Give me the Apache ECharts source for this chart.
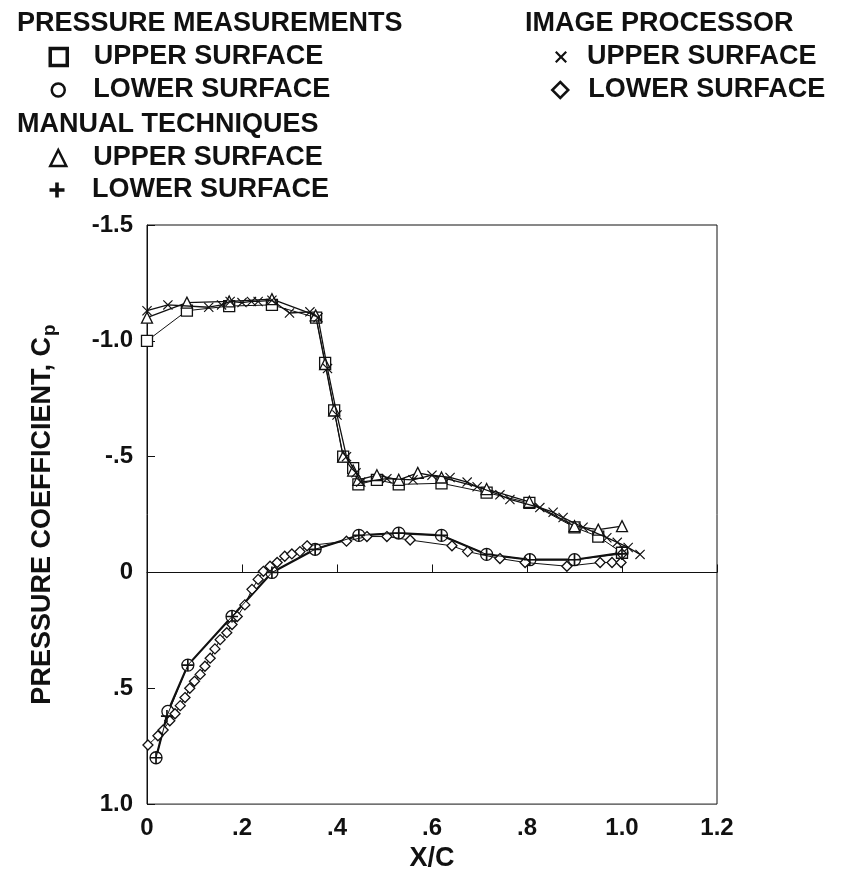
<!DOCTYPE html>
<html>
<head>
<meta charset="utf-8">
<script src="https://cdn.jsdelivr.net/npm/echarts@6/dist/echarts.min.js"></script>
<style>
  html, body { margin: 0; padding: 0; background: #fff; }
  #chart { width: 856px; height: 877px; }
</style>
</head>
<body>
<div id="chart"></div>
<script>
// tick labels
const xTicks = [0, 0.2, 0.4, 0.6, 0.8, 1.0, 1.2]
const xTickLabels = ['0', '.2', '.4', '.6', '.8', '1.0', '1.2']
const yTicks = [-1.5, -1.0, -0.5, 0, 0.5, 1.0]
const yTickLabels = ['-1.5', '-1.0', '-.5', '0', '.5', '1.0']

// pressure measurements [x/c, Cp]
const pressureUpper = [
  [0, -1.0], [0.084, -1.13], [0.173, -1.15], [0.263, -1.155], [0.356, -1.10],
  [0.375, -0.905], [0.394, -0.70], [0.413, -0.50], [0.434, -0.45], [0.445, -0.38],
  [0.484, -0.40], [0.53, -0.38], [0.62, -0.385], [0.715, -0.345], [0.805, -0.30],
  [0.90, -0.195], [0.95, -0.155], [1.0, -0.085]
]
const pressureLower = [
  [0.019, 0.80], [0.044, 0.60], [0.086, 0.40], [0.179, 0.19], [0.263, 0.0],
  [0.354, -0.10], [0.446, -0.16], [0.53, -0.17], [0.62, -0.16], [0.715, -0.078],
  [0.806, -0.055], [0.90, -0.055], [1.0, -0.085]
]

// manual techniques
const manualUpper = [
  [0, -1.10], [0.084, -1.165], [0.173, -1.17], [0.263, -1.18], [0.355, -1.11],
  [0.375, -0.90], [0.394, -0.70], [0.413, -0.50], [0.434, -0.44], [0.445, -0.40],
  [0.484, -0.42], [0.53, -0.40], [0.57, -0.43], [0.62, -0.41], [0.715, -0.36],
  [0.805, -0.305], [0.90, -0.20], [0.95, -0.185], [1.0, -0.20]
]
const manualLower = [
  [0.019, 0.80], [0.042, 0.62], [0.086, 0.40], [0.179, 0.19], [0.263, 0.0],
  [0.354, -0.10], [0.446, -0.16], [0.53, -0.17], [0.62, -0.16], [0.715, -0.078],
  [0.806, -0.055], [0.90, -0.055], [1.0, -0.08]
]

// image processor
const imageUpper = [
  [0, -1.13], [0.044, -1.155], [0.13, -1.145], [0.157, -1.155], [0.175, -1.17],
  [0.20, -1.165], [0.22, -1.17], [0.234, -1.17], [0.263, -1.175], [0.30, -1.12],
  [0.343, -1.125], [0.36, -1.10], [0.38, -0.88], [0.40, -0.68], [0.42, -0.50],
  [0.44, -0.43], [0.45, -0.39], [0.505, -0.405], [0.56, -0.40], [0.60, -0.42],
  [0.638, -0.41], [0.674, -0.39], [0.695, -0.37], [0.743, -0.335], [0.764, -0.315],
  [0.827, -0.28], [0.855, -0.26], [0.876, -0.237], [0.918, -0.195], [0.968, -0.15],
  [0.99, -0.13], [1.013, -0.108], [1.038, -0.078]
]
const imageLower = [
  [0.002, 0.745], [0.023, 0.705], [0.034, 0.68], [0.048, 0.64], [0.059, 0.61],
  [0.07, 0.575], [0.08, 0.54], [0.09, 0.50], [0.10, 0.47], [0.112, 0.44],
  [0.122, 0.405], [0.133, 0.37], [0.143, 0.33], [0.154, 0.29], [0.168, 0.26],
  [0.179, 0.225], [0.19, 0.19], [0.206, 0.14], [0.221, 0.073], [0.234, 0.03],
  [0.245, -0.005], [0.259, -0.027], [0.274, -0.043], [0.29, -0.07], [0.305, -0.08],
  [0.322, -0.09], [0.337, -0.115], [0.42, -0.135], [0.463, -0.155], [0.505, -0.155],
  [0.554, -0.14], [0.642, -0.115], [0.675, -0.09], [0.743, -0.06], [0.796, -0.043],
  [0.884, -0.027], [0.954, -0.043], [0.979, -0.043], [0.998, -0.043], [1.0, -0.08]
]

const FONT = '"Liberation Sans", Arial, sans-serif'
const INK = '#111'
const PLUS = 'path://M4.3,0H5.7V4.3H10V5.7H5.7V10H4.3V5.7H0V4.3H4.3Z'
const PLUS_BOLD = 'path://M3.8,0H6.2V3.8H10V6.2H6.2V10H3.8V6.2H0V3.8H3.8Z'
const CROSS = 'path://M0.8,0L5,4.2L9.2,0L10,0.8L5.8,5L10,9.2L9.2,10L5,5.8L0.8,10L0,9.2L4.2,5L0,0.8Z'
const CROSS_BOLD = 'path://M1.3,0L5,3.7L8.7,0L10,1.3L6.3,5L10,8.7L8.7,10L5,6.3L1.3,10L0,8.7L3.7,5L0,1.3Z'

const labels = {
  pu: 'UPPER SURFACE', pl: 'LOWER SURFACE',
  mu: 'UPPER SURFACE', ml: 'LOWER SURFACE',
  iu: 'UPPER SURFACE', il: 'LOWER SURFACE'
}

const chart = echarts.init(document.getElementById('chart'))

const hollow = { color: '#fff', borderColor: INK, borderWidth: 1.3 }

// one legend per row so rows sit where the reference has them
function legendRow (name, icon, size, cx, cy, textX, style) {
  return {
    data: [{ name: name, icon: icon, itemStyle: style }],
    formatter: n => labels[n],
    left: cx - size / 2,
    top: cy - 14,
    padding: 0,
    itemWidth: size,
    itemHeight: size,
    selectedMode: false,
    textStyle: {
      fontFamily: FONT, fontWeight: 'bold', fontSize: 27, color: INK,
      lineHeight: 28, padding: [0, 0, 0, textX - (cx + size / 2) - 5]
    }
  }
}

const headerStyle = { fontFamily: FONT, fontWeight: 'bold', fontSize: 27, color: INK, lineHeight: 28 }

const option = {
  animation: false,
  backgroundColor: '#fff',
  title: [
    { text: 'PRESSURE MEASUREMENTS', left: 17, top: 10, padding: 0, textStyle: headerStyle },
    { text: 'MANUAL TECHNIQUES', left: 17, top: 111, padding: 0, textStyle: headerStyle },
    { text: 'IMAGE PROCESSOR', left: 525, top: 10, padding: 0, textStyle: headerStyle }
  ],
  legend: [
    legendRow('pu', 'rect', 17, 57, 57, 92, { color: '#fff', borderColor: INK, borderWidth: 3.5 }),
    legendRow('pl', 'circle', 13, 57, 90, 92, { color: '#fff', borderColor: INK, borderWidth: 2.5 }),
    legendRow('mu', 'triangle', 16, 57, 158, 92, { color: '#fff', borderColor: INK, borderWidth: 2.5 }),
    legendRow('ml', PLUS_BOLD, 15, 57, 190, 92, { color: INK, borderWidth: 0 }),
    legendRow('iu', CROSS_BOLD, 12, 561, 57, 587, { color: INK, borderWidth: 0 }),
    legendRow('il', 'diamond', 16, 559, 90, 587, { color: '#fff', borderColor: INK, borderWidth: 2.5 })
  ],
  grid: { left: 147, top: 225, right: 139, bottom: 72, show: true, borderColor: INK, borderWidth: 1 },
  xAxis: {
    type: 'value', min: 0, max: 1.2, interval: 0.2,
    name: 'X/C', nameLocation: 'middle', nameGap: 40,
    nameTextStyle: { fontFamily: FONT, fontWeight: 'bold', fontSize: 27, color: INK },
    axisLine: { lineStyle: { color: INK, width: 1 } },
    axisTick: { inside: true, length: 8, lineStyle: { color: INK } },
    splitLine: { show: false },
    axisLabel: {
      margin: 12, fontFamily: FONT, fontWeight: 'bold', fontSize: 24, color: INK,
      formatter: v => { const i = xTicks.findIndex(t => Math.abs(t - v) < 1e-6); return i < 0 ? '' : xTickLabels[i] }
    }
  },
  yAxis: {
    type: 'value', min: -1.5, max: 1.0, interval: 0.5, inverse: true,
    name: 'PRESSURE COEFFICIENT, C{sub|p}', nameLocation: 'middle', nameGap: 88, nameRotate: 90,
    nameTextStyle: {
      fontFamily: FONT, fontWeight: 'bold', fontSize: 27, color: INK,
      rich: { sub: { fontFamily: FONT, fontWeight: 'bold', fontSize: 19, color: INK, padding: [14, 0, 0, 1] } }
    },
    axisLine: { lineStyle: { color: INK, width: 1 } },
    axisTick: { inside: true, length: 8, lineStyle: { color: INK } },
    splitLine: { show: false },
    axisLabel: {
      margin: 14, fontFamily: FONT, fontWeight: 'bold', fontSize: 24, color: INK,
      formatter: v => { const i = yTicks.findIndex(t => Math.abs(t - v) < 1e-6); return i < 0 ? '' : yTickLabels[i] }
    }
  },
  series: [
    {
      name: 'pl', type: 'line', data: pressureLower, symbol: 'circle', symbolSize: 12,
      lineStyle: { color: INK, width: 2.2 }, itemStyle: hollow, z: 2
    },
    {
      name: 'il', type: 'line', data: imageLower, symbol: 'diamond', symbolSize: 10,
      lineStyle: { color: INK, width: 1 }, itemStyle: hollow, z: 3
    },
    {
      name: 'ml', type: 'line', data: manualLower, symbol: PLUS, symbolSize: 12,
      lineStyle: { color: INK, width: 1 }, itemStyle: { color: INK, borderWidth: 0 }, z: 4
    },
    {
      name: 'pu', type: 'line', data: pressureUpper, symbol: 'rect', symbolSize: 11,
      lineStyle: { color: INK, width: 1 }, itemStyle: hollow, z: 2
    },
    {
      name: 'mu', type: 'line', data: manualUpper, symbol: 'triangle', symbolSize: 11,
      lineStyle: { color: INK, width: 1.3 }, itemStyle: hollow, z: 3
    },
    {
      name: 'iu', type: 'line', data: imageUpper, symbol: CROSS, symbolSize: 10,
      lineStyle: { color: INK, width: 1.3 }, itemStyle: { color: INK, borderWidth: 0 }, z: 4
    }
  ]
}

chart.setOption(option)
</script>
</body>
</html>
